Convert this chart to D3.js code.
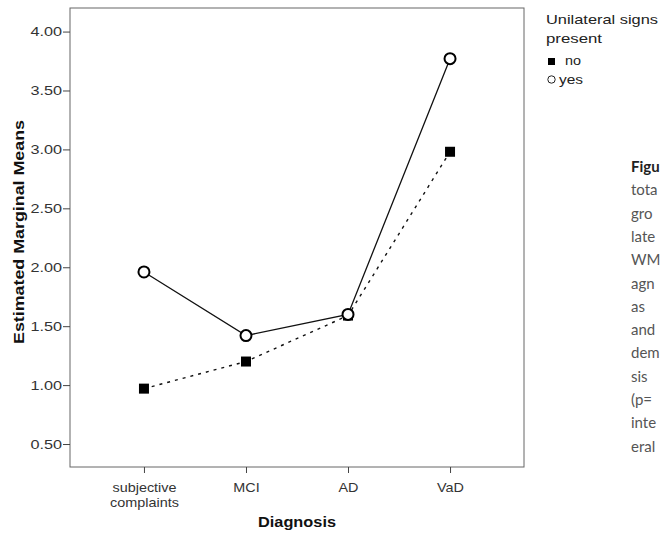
<!DOCTYPE html>
<html>
<head>
<meta charset="utf-8">
<script src="https://cdn.jsdelivr.net/npm/d3@7/dist/d3.min.js"></script>
<style>
  body { margin: 0; background: #fff; }
  svg { display: block; }
  .tick text { font-family: "Liberation Sans", Arial, sans-serif; font-size: 12px; fill: #333; }
  .axis-title { font-family: "Liberation Sans", Arial, sans-serif; font-weight: bold; fill: #111; }
  .legend text { font-family: "Liberation Sans", Arial, sans-serif; font-size: 13px; fill: #222; }
  .caption text { font-family: Lato, "Open Sans", sans-serif; font-size: 15px; fill: #555; }
</style>
</head>
<body>
<div id="graphic"></div>
<script>
// data
var diagnoses = ["subjective complaints", "MCI", "AD", "VaD"];
var yesMeans = [1.96, 1.42, 1.60, 3.77];
var noMeans = [0.97, 1.20, 1.59, 2.98];
var yTicks = [0.5, 1.0, 1.5, 2.0, 2.5, 3.0, 3.5, 4.0];
var captionLines = ["Figu", "tota", "gro", "late", "WM", "agn", "as", "and", "dem", "sis", "(p=", "inte", "eral"];

var width = 661, height = 534;
var plotLeft = 70, plotRight = 524, plotTop = 8, plotBottom = 467;
var stretch = 1.25; // the source picture's text is wider than plain Arial

var svg = d3.select("#graphic")
  .append("svg")
  .attr("width", width)
  .attr("height", height);

var x = d3.scalePoint()
  .domain(diagnoses)
  .range([plotLeft, plotRight])
  .padding(0.725);

var y = d3.scaleLinear()
  .domain([0.305, 4.2])
  .range([plotBottom, plotTop]);

// frame
svg.append("rect")
  .attr("x", plotLeft)
  .attr("y", plotTop)
  .attr("width", plotRight - plotLeft)
  .attr("height", plotBottom - plotTop)
  .attr("fill", "none")
  .attr("stroke", "#666")
  .attr("stroke-width", 1);

// axes
var yAxis = svg.append("g")
  .attr("transform", "translate(" + plotLeft + ",0)")
  .call(d3.axisLeft(y).tickValues(yTicks).tickFormat(d3.format(".2f")).tickSize(7).tickPadding(0));
yAxis.select(".domain").remove();
yAxis.selectAll(".tick line").attr("stroke", "#444");
yAxis.selectAll(".tick text")
  .style("font-size", "12.5px")
  .attr("x", -8 / 1.3)
  .attr("transform", "scale(1.3,1)");

var xAxis = svg.append("g")
  .attr("transform", "translate(0," + plotBottom + ")")
  .call(d3.axisBottom(x).tickSize(6).tickFormat(""));
xAxis.select(".domain").remove();
xAxis.selectAll(".tick line").attr("stroke", "#444");

xAxis.selectAll(".tick").each(function(d) {
  var parts = d.split(" ");
  var t = d3.select(this).append("text")
    .attr("y", 25)
    .attr("text-anchor", "middle")
    .attr("transform", "scale(" + (stretch - 0.05) + ",1)");
  parts.forEach(function(p, i) {
    t.append("tspan").attr("x", 0).attr("dy", i == 0 ? 0 : 15).text(p);
  });
});

svg.append("text")
  .attr("class", "axis-title")
  .attr("x", 297)
  .attr("y", 527)
  .attr("text-anchor", "middle")
  .style("font-size", "15px")
  .attr("textLength", 78)
  .attr("lengthAdjust", "spacingAndGlyphs")
  .text("Diagnosis");

svg.append("text")
  .attr("class", "axis-title")
  .attr("transform", "translate(24,232) rotate(-90)")
  .attr("text-anchor", "middle")
  .style("font-size", "15px")
  .attr("textLength", 224)
  .attr("lengthAdjust", "spacingAndGlyphs")
  .text("Estimated Marginal Means");

// lines
var line = d3.line()
  .x(function(d, i) { return x(diagnoses[i]); })
  .y(function(d) { return y(d); });

svg.append("path")
  .datum(noMeans)
  .attr("d", line)
  .attr("fill", "none")
  .attr("stroke", "#111")
  .attr("stroke-width", 1.4)
  .attr("stroke-dasharray", "3,5");

svg.append("path")
  .datum(yesMeans)
  .attr("d", line)
  .attr("fill", "none")
  .attr("stroke", "#111")
  .attr("stroke-width", 1.3);

// markers
svg.selectAll(".sq")
  .data(noMeans)
  .enter().append("rect")
  .attr("class", "sq")
  .attr("x", function(d, i) { return x(diagnoses[i]) - 5; })
  .attr("y", function(d) { return y(d) - 5; })
  .attr("width", 10)
  .attr("height", 10)
  .attr("fill", "#000");

svg.selectAll(".ci")
  .data(yesMeans)
  .enter().append("circle")
  .attr("class", "ci")
  .attr("cx", function(d, i) { return x(diagnoses[i]); })
  .attr("cy", function(d) { return y(d); })
  .attr("r", 5.5)
  .attr("fill", "#fff")
  .attr("stroke", "#000")
  .attr("stroke-width", 2);

// legend
var legend = svg.append("g").attr("class", "legend");
legend.append("text").attr("x", 546).attr("y", 24).attr("textLength", 112).attr("lengthAdjust", "spacingAndGlyphs").text("Unilateral signs");
legend.append("text").attr("x", 546).attr("y", 43).attr("textLength", 56).attr("lengthAdjust", "spacingAndGlyphs").text("present");
legend.append("rect").attr("x", 548).attr("y", 58).attr("width", 7).attr("height", 7).attr("fill", "#000");
legend.append("text").attr("x", 565).attr("y", 65).attr("textLength", 16).attr("lengthAdjust", "spacingAndGlyphs").text("no");
legend.append("circle").attr("cx", 551.5).attr("cy", 79.5).attr("r", 3.7).attr("fill", "none").attr("stroke", "#222").attr("stroke-width", 1);
legend.append("text").attr("x", 559).attr("y", 84).attr("textLength", 24).attr("lengthAdjust", "spacingAndGlyphs").text("yes");

// caption fragment on the right
var caption = svg.append("g").attr("class", "caption");
caption.selectAll("text")
  .data(captionLines)
  .enter().append("text")
  .attr("x", 631)
  .attr("y", function(d, i) { return 172 + i * 23.3; })
  .style("font-weight", function(d, i) { return i == 0 ? "bold" : null; })
  .style("fill", function(d, i) { return i == 0 ? "#222" : null; })
  .text(function(d) { return d; });
</script>
</body>
</html>
